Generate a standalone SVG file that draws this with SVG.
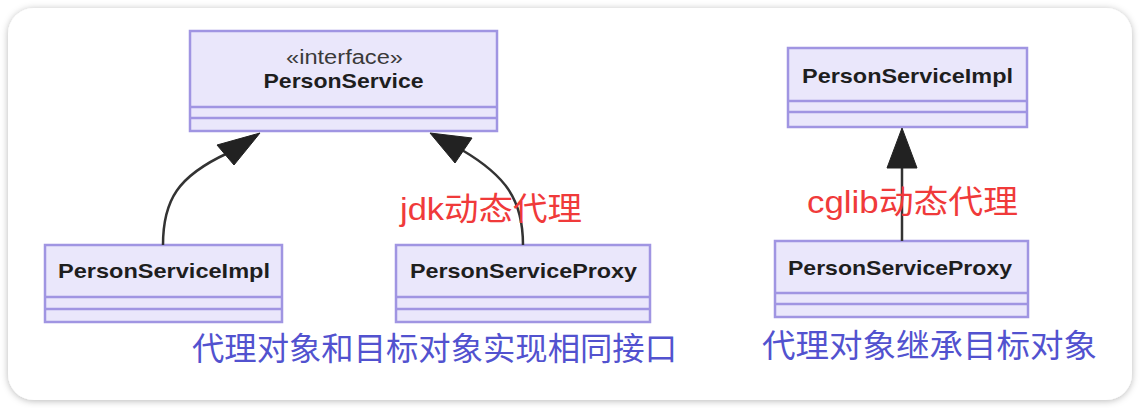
<svg xmlns="http://www.w3.org/2000/svg" width="1140" height="408" viewBox="0 0 1140 408">
<defs>
<filter id="sh" x="-5%" y="-5%" width="110%" height="115%">
<feDropShadow dx="0" dy="1" stdDeviation="3.5" flood-color="#000" flood-opacity="0.28"/>
</filter>
<style>
.box{fill:#eae7fb;stroke:#a095e2;stroke-width:2.5}
.sep{stroke:#a095e2;stroke-width:2.5;fill:none}
.name{font-family:"Liberation Sans",Arial,sans-serif;font-weight:bold;font-size:21px;fill:#1e1e1e}
.stereo{font-family:"Liberation Sans",Arial,sans-serif;font-size:20px;fill:#3a3a3a}
.edge{fill:none;stroke:#333;stroke-width:2.5}
.head{fill:#222;stroke:#222;stroke-width:1;stroke-linejoin:round}
.red{font-family:"Liberation Sans","Noto Sans CJK SC",sans-serif;font-size:32px;fill:#f03a3a}
.blue{font-family:"Liberation Sans","Noto Sans CJK SC",sans-serif;font-size:32px;fill:#5252cf}
</style>
</defs>
<rect x="0" y="0" width="1140" height="408" fill="#ffffff"/>
<rect x="8" y="8" width="1124" height="392" rx="26" ry="26" fill="#ffffff" filter="url(#sh)"/>

<g id="PersonService">
<rect class="box" x="190" y="31" width="307" height="100"/>
<line class="sep" x1="190" y1="107" x2="497" y2="107"/>
<line class="sep" x1="190" y1="118" x2="497" y2="118"/>
<text class="stereo" x="344.5" y="64" text-anchor="middle" textLength="117" lengthAdjust="spacingAndGlyphs">«interface»</text>
<text class="name" x="343.5" y="88" text-anchor="middle" textLength="160" lengthAdjust="spacingAndGlyphs">PersonService</text>
</g>

<g id="PersonServiceImpl-left">
<rect class="box" x="45" y="245" width="237" height="77"/>
<line class="sep" x1="45" y1="297" x2="282" y2="297"/>
<line class="sep" x1="45" y1="309" x2="282" y2="309"/>
<text class="name" x="164" y="278" text-anchor="middle" textLength="212" lengthAdjust="spacingAndGlyphs">PersonServiceImpl</text>
</g>

<g id="PersonServiceProxy-left">
<rect class="box" x="396" y="245" width="254" height="77"/>
<line class="sep" x1="396" y1="297" x2="650" y2="297"/>
<line class="sep" x1="396" y1="309" x2="650" y2="309"/>
<text class="name" x="523.5" y="278" text-anchor="middle" textLength="227" lengthAdjust="spacingAndGlyphs">PersonServiceProxy</text>
</g>

<g id="PersonServiceImpl-right">
<rect class="box" x="788" y="48" width="239" height="79"/>
<line class="sep" x1="788" y1="101" x2="1027" y2="101"/>
<line class="sep" x1="788" y1="112" x2="1027" y2="112"/>
<text class="name" x="907.5" y="83" text-anchor="middle" textLength="211" lengthAdjust="spacingAndGlyphs">PersonServiceImpl</text>
</g>

<g id="PersonServiceProxy-right">
<rect class="box" x="775" y="241" width="253" height="76"/>
<line class="sep" x1="775" y1="293" x2="1028" y2="293"/>
<line class="sep" x1="775" y1="304" x2="1028" y2="304"/>
<text class="name" x="900" y="275" text-anchor="middle" textLength="224" lengthAdjust="spacingAndGlyphs">PersonServiceProxy</text>
</g>

<g id="connectors">
<path class="edge" d="M163,245 C163,200 178,176 228,153"/>
<polygon class="head" points="260,133 217,145 234,165"/>
<path class="edge" d="M523,245 C523,200 506,176 462,150"/>
<polygon class="head" points="430,133 472,138 455,163"/>
<path class="edge" d="M902,241 L902,165"/>
<polygon class="head" points="902,128 887,168 917,168"/>
</g>

<g id="labels">
<text class="red" x="400" y="220" textLength="182" lengthAdjust="spacingAndGlyphs">jdk动态代理</text>
<text class="red" x="807" y="213" textLength="211" lengthAdjust="spacingAndGlyphs">cglib动态代理</text>
<text class="blue" x="192" y="360" textLength="485" lengthAdjust="spacingAndGlyphs">代理对象和目标对象实现相同接口</text>
<text class="blue" x="762" y="357" textLength="335" lengthAdjust="spacingAndGlyphs">代理对象继承目标对象</text>
</g>
</svg>
